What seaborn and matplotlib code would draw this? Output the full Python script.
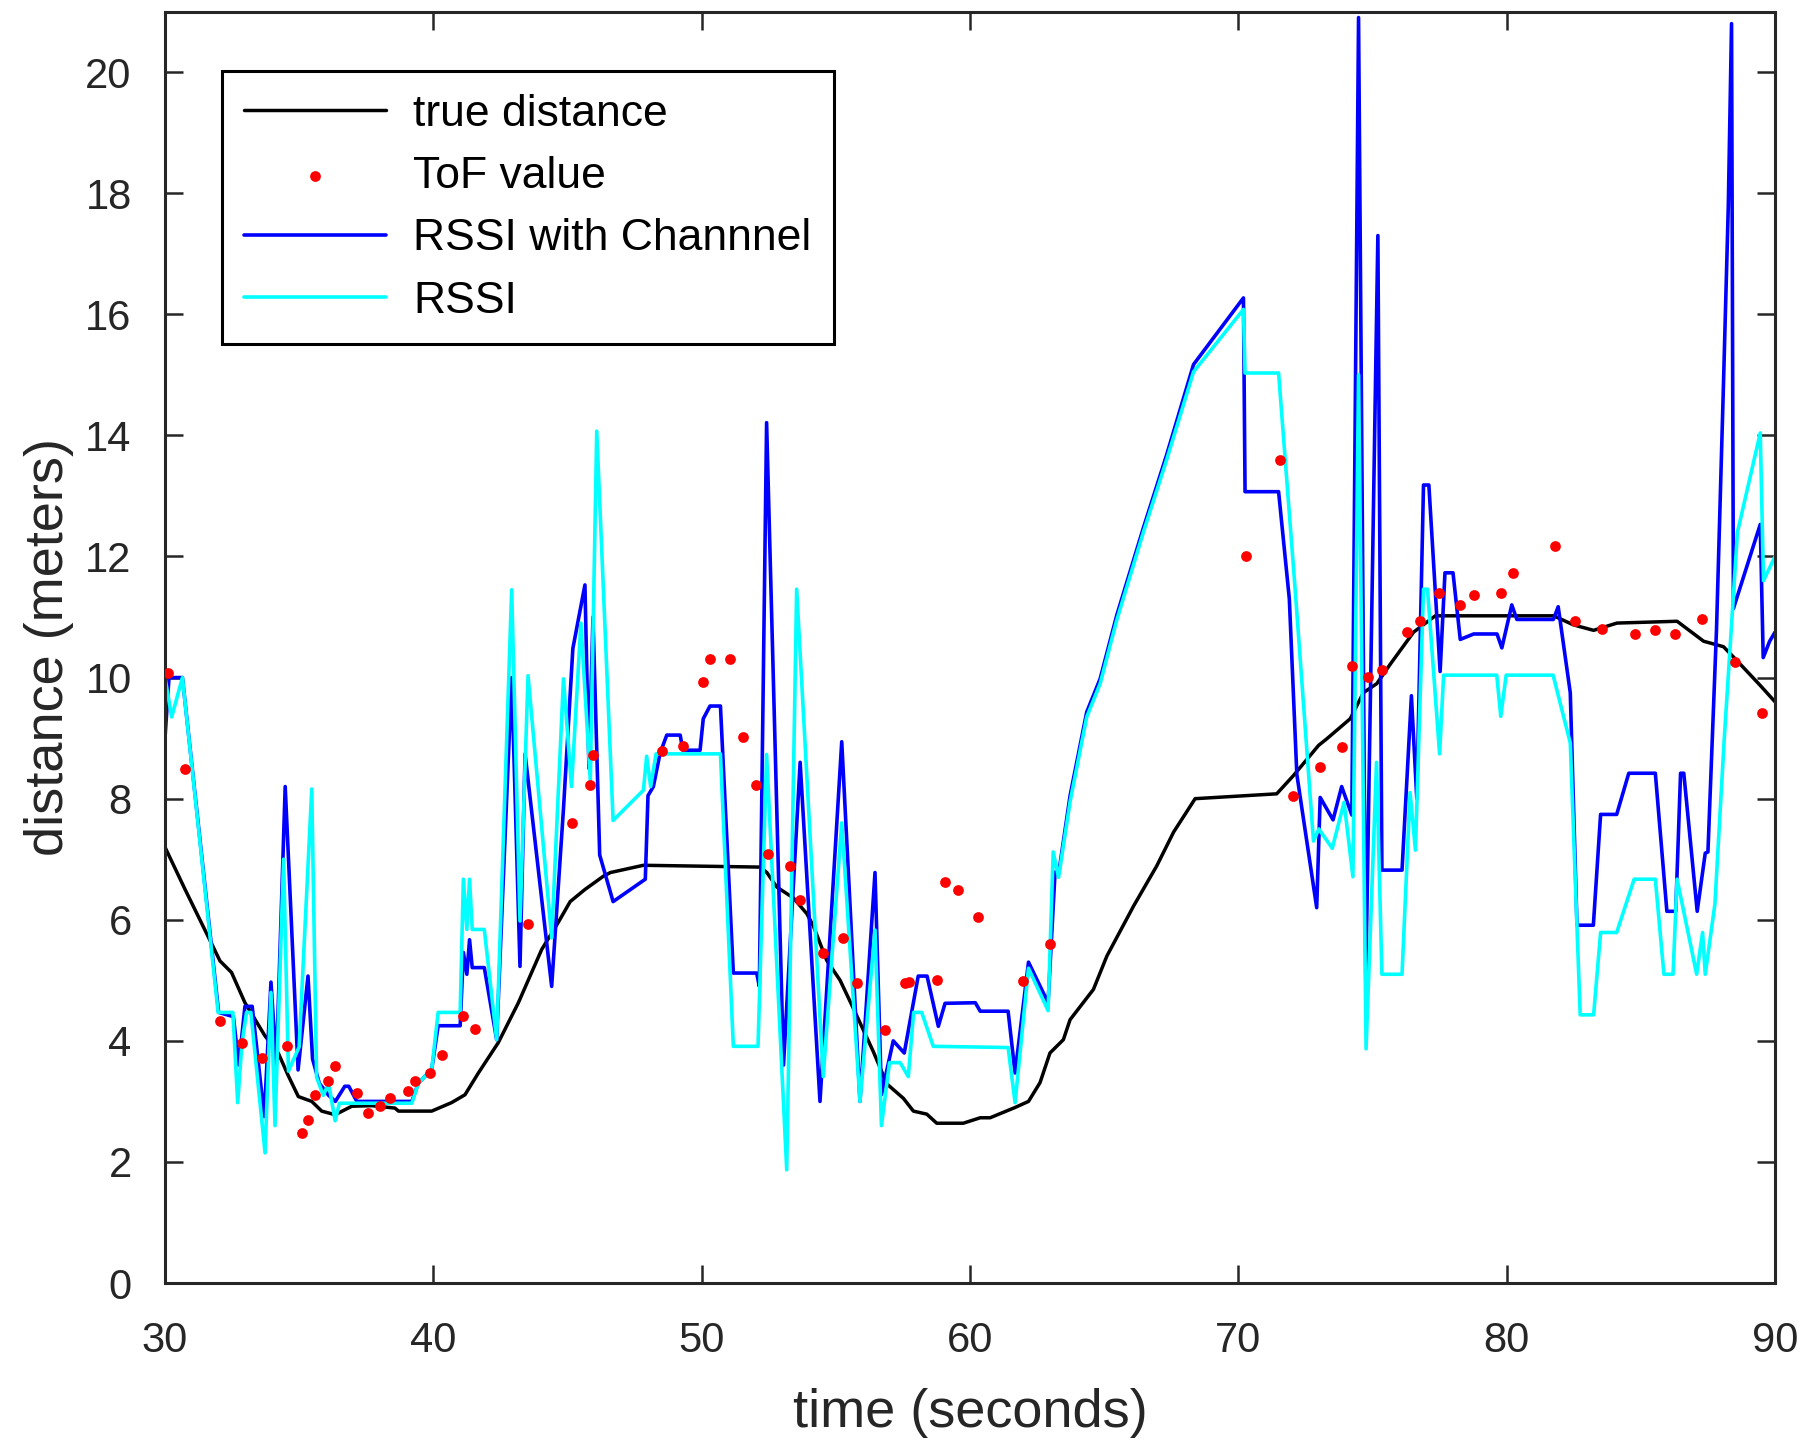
import matplotlib
matplotlib.use('Agg')
from matplotlib import pyplot as plt
import seaborn as sns
import pandas as pd

# true distance (black)
true_t = [30.0, 30.75, 31.6, 32.05, 32.48, 32.98, 33.73, 34.22, 34.6, 34.97, 35.47, 35.84, 36.34, 36.96,
          37.7, 38.57, 38.7, 39.94, 40.68, 41.18, 41.68, 42.42, 43.17, 44.04, 44.66, 45.1, 45.65, 46.34,
          46.6, 47.83, 52.18, 52.43, 52.8, 53.42, 53.92, 54.16, 54.66, 55.16, 55.65, 56.4, 56.9, 57.52,
          57.89, 58.39, 58.76, 59.75, 60.38, 60.75, 61.68, 62.18, 62.61, 62.98, 63.48, 63.73, 64.6, 65.1,
          66.1, 66.96, 67.59, 68.39, 71.43, 72.05, 72.99, 73.3, 74.17, 74.66, 75.16, 75.66, 76.53, 77.34,
          81.75, 82.49, 83.24, 84.11, 86.35, 87.34, 88.08, 88.58, 89.45, 90.0]
true_d = [7.2, 6.5, 5.73, 5.32, 5.13, 4.63, 4.08, 3.8, 3.42, 3.08, 3.0, 2.84, 2.78, 2.92,
          2.93, 2.89, 2.84, 2.84, 2.98, 3.11, 3.47, 3.97, 4.63, 5.51, 5.96, 6.3, 6.5, 6.72,
          6.78, 6.9, 6.87, 6.78, 6.54, 6.36, 6.1, 5.9, 5.33, 5.0, 4.54, 3.82, 3.29, 3.05,
          2.84, 2.79, 2.64, 2.64, 2.73, 2.73, 2.9, 3.0, 3.31, 3.8, 4.02, 4.35, 4.85, 5.4,
          6.23, 6.89, 7.45, 8.0, 8.08, 8.38, 8.88, 8.99, 9.32, 9.75, 9.9, 10.22, 10.75, 11.02,
          11.02, 10.87, 10.78, 10.9, 10.93, 10.6, 10.51, 10.28, 9.87, 9.6]

# ToF value (red dots)
tof_t = [30.12, 30.75, 32.05, 32.86, 33.6, 34.53, 35.09, 35.34, 35.6, 36.09, 36.34, 37.15, 37.58, 38.01,
         38.39, 39.07, 39.32, 39.88, 40.31, 41.12, 41.55, 43.54, 45.16, 45.84, 45.96, 48.51, 49.32, 50.05,
         50.31, 51.06, 51.55, 52.02, 52.49, 53.28, 53.67, 54.54, 55.28, 55.78, 56.84, 57.58, 57.72, 58.76,
         59.07, 59.55, 60.28, 61.99, 62.99, 70.3, 71.55, 72.05, 73.05, 73.85, 74.23, 74.85, 75.35, 76.28,
         76.77, 77.46, 78.27, 78.77, 79.77, 80.25, 81.8, 82.54, 83.55, 84.8, 85.54, 86.29, 87.28, 88.52,
         89.51]
tof_d = [10.07, 8.49, 4.33, 3.97, 3.72, 3.91, 2.48, 2.7, 3.1, 3.33, 3.58, 3.14, 2.81, 2.92,
         3.05, 3.17, 3.33, 3.47, 3.77, 4.41, 4.19, 5.93, 7.6, 8.22, 8.72, 8.79, 8.87, 9.92,
         10.3, 10.3, 9.02, 8.23, 7.08, 6.89, 6.32, 5.45, 5.7, 4.95, 4.18, 4.95, 4.97, 5.0,
         6.63, 6.49, 6.04, 4.99, 5.6, 12.0, 13.6, 8.05, 8.52, 8.86, 10.19, 10.01, 10.13, 10.76,
         10.93, 11.4, 11.2, 11.37, 11.4, 11.73, 12.17, 10.93, 10.81, 10.72, 10.78, 10.72, 10.96, 10.25,
         9.42]

# RSSI with Channel (blue)
chan_t = [30.0, 30.15, 30.65, 32.0, 32.55, 32.75, 32.98, 33.25, 33.7, 33.95, 34.15, 34.48, 34.96, 35.33,
          35.5, 35.75, 36.1, 36.35, 36.7, 36.85, 37.15, 39.2, 39.44, 39.94, 40.18, 41.0, 41.12, 41.25,
          41.35, 41.45, 41.9, 42.36, 42.92, 43.23, 43.42, 44.41, 44.85, 45.2, 45.65, 45.8, 45.95, 46.2,
          46.7, 47.9, 48.0, 48.2, 48.45, 48.7, 49.2, 49.3, 49.94, 50.06, 50.31, 50.7, 51.18, 52.05,
          52.15, 52.42, 53.05, 53.67, 54.41, 55.22, 55.9, 56.46, 56.7, 57.14, 57.55, 58.07, 58.4, 58.82,
          59.07, 60.2, 60.38, 61.42, 61.68, 62.18, 62.91, 63.17, 63.3, 63.73, 64.35, 64.85, 65.47, 66.46,
          67.33, 68.33, 70.19, 70.25, 71.5, 71.9, 72.18, 72.92, 73.05, 73.53, 73.85, 74.23, 74.48, 74.75,
          75.2, 75.35, 76.1, 76.45, 76.65, 76.9, 77.1, 77.52, 77.7, 78.0, 78.27, 78.77, 79.64, 79.82,
          80.19, 80.38, 81.74, 81.92, 82.37, 82.62, 83.23, 83.5, 84.1, 84.55, 85.54, 85.97, 86.3, 86.48,
          86.6, 87.1, 87.4, 87.5, 87.82, 88.07, 88.26, 88.38, 88.45, 89.45, 89.56, 89.8, 90.0]
chan_d = [9.0, 10.0, 10.0, 4.47, 4.4, 3.6, 4.57, 4.57, 2.75, 4.97, 3.6, 8.2, 3.52, 5.07,
          3.7, 3.3, 3.1, 3.0, 3.25, 3.25, 3.0, 3.0, 3.3, 3.53, 4.25, 4.25, 5.46, 5.1,
          5.67, 5.21, 5.21, 4.02, 10.0, 5.23, 8.74, 4.9, 7.83, 10.48, 11.53, 8.5, 11.0, 7.07,
          6.3, 6.67, 8.05, 8.2, 8.75, 9.05, 9.05, 8.8, 8.8, 9.32, 9.53, 9.53, 5.12, 5.12,
          4.9, 14.21, 3.6, 8.6, 3.0, 8.94, 3.0, 6.78, 3.11, 4.0, 3.8, 5.07, 5.07, 4.24,
          4.62, 4.63, 4.49, 4.49, 3.47, 5.3, 4.63, 6.79, 6.75, 8.05, 9.43, 9.98, 11.03, 12.47,
          13.68, 15.17, 16.27, 13.07, 13.07, 11.3, 8.4, 6.2, 8.02, 7.65, 8.2, 7.73, 20.9, 5.0,
          17.3, 6.82, 6.82, 9.7, 8.0, 13.18, 13.18, 10.1, 11.73, 11.73, 10.63, 10.72, 10.72, 10.49,
          11.2, 10.96, 10.96, 11.17, 9.75, 5.91, 5.91, 7.74, 7.74, 8.42, 8.42, 6.14, 6.14, 8.42,
          8.42, 6.14, 7.1, 7.12, 10.8, 14.7, 17.8, 20.8, 11.14, 12.53, 10.33, 10.6, 10.75]

# RSSI (cyan)
rssi_t = [30.0, 30.25, 30.65, 31.98, 32.53, 32.71, 32.87, 33.04, 33.2, 33.73, 33.95, 34.1, 34.42, 34.6,
          35.0, 35.47, 35.65, 35.9, 36.1, 36.34, 36.5, 39.2, 39.44, 39.94, 40.18, 41.0, 41.12, 41.25,
          41.35, 41.45, 41.9, 42.36, 42.92, 43.23, 43.53, 44.41, 44.85, 45.15, 45.5, 45.85, 46.09, 46.7,
          47.83, 47.95, 48.1, 48.3, 50.7, 51.18, 52.1, 52.42, 53.17, 53.54, 54.53, 55.22, 55.9, 56.46,
          56.7, 57.0, 57.4, 57.7, 57.9, 58.2, 58.63, 61.42, 61.68, 62.18, 62.91, 63.1, 63.3, 63.73,
          64.35, 64.85, 65.47, 66.46, 67.33, 68.33, 70.19, 70.25, 71.5, 72.12, 72.8, 73.0, 73.5, 73.94,
          74.27, 74.48, 74.76, 75.15, 75.35, 76.1, 76.4, 76.6, 76.9, 77.05, 77.5, 77.65, 79.63, 79.78,
          79.98, 81.73, 82.37, 82.74, 83.24, 83.5, 84.1, 84.75, 85.54, 85.86, 86.2, 86.35, 87.08, 87.3,
          87.4, 87.76, 88.1, 88.6, 89.45, 89.57, 90.0]
rssi_d = [10.0, 9.35, 10.0, 4.47, 4.47, 2.98, 3.97, 4.47, 4.47, 2.15, 4.8, 2.6, 7.0, 3.5,
          3.9, 8.16, 3.4, 3.1, 3.3, 2.68, 2.97, 2.97, 3.3, 3.53, 4.47, 4.47, 6.67, 5.84,
          6.67, 5.84, 5.84, 4.02, 11.45, 5.98, 10.03, 5.7, 9.98, 8.2, 10.9, 8.3, 14.07, 7.64,
          8.14, 8.7, 8.2, 8.74, 8.74, 3.91, 3.91, 8.73, 1.87, 11.46, 3.41, 7.6, 3.0, 5.83,
          2.6, 3.64, 3.64, 3.41, 4.47, 4.47, 3.91, 3.89, 2.98, 5.2, 4.5, 7.12, 6.7, 7.95,
          9.35, 9.9, 10.95, 12.4, 13.6, 15.05, 16.08, 15.03, 15.03, 11.44, 7.3, 7.5, 7.18, 7.94,
          6.71, 15.0, 3.87, 8.6, 5.1, 5.1, 8.1, 7.15, 11.46, 11.46, 8.74, 10.04, 10.04, 9.36,
          10.04, 10.04, 8.92, 4.43, 4.43, 5.79, 5.79, 6.67, 6.67, 5.1, 5.1, 6.67, 5.1, 5.79,
          5.1, 6.26, 8.93, 12.4, 14.04, 11.6, 12.0]

sns.set_style('ticks')
plt.rcParams['font.family'] = ['Liberation Sans', 'DejaVu Sans']
grey = '#262626'

fig = plt.figure(figsize=(18.07, 14.41), dpi=100)
ax = fig.add_axes([0.0913, 0.1096, 0.891, 0.8824])

sns.lineplot(x=true_t, y=true_d, color='black', linewidth=2.5, sort=False, estimator=None,
             label='true distance', ax=ax)
sns.scatterplot(x=tof_t, y=tof_d, color='#ff0000', s=60, linewidth=0, marker='o',
                label='ToF value', ax=ax, zorder=3)
sns.lineplot(x=chan_t, y=chan_d, color='#0000ff', linewidth=2.6, sort=False, estimator=None,
             label='RSSI with Channnel', ax=ax)
sns.lineplot(x=rssi_t, y=rssi_d, color='#00ffff', linewidth=2.6, sort=False, estimator=None,
             label='RSSI', ax=ax)

ax.set_xlim(30, 90)
ax.set_ylim(0, 21)
ax.set_xticks(range(30, 91, 10))
ax.set_yticks(range(0, 21, 2))
ax.tick_params(direction='in', length=13, width=1.8, top=True, right=True,
               labelsize=30, color=grey, labelcolor=grey, pad=24)
ax.tick_params(axis='x', pad=27)
for sp in ax.spines.values():
    sp.set_linewidth(2.2)
    sp.set_color(grey)

ax.set_xlabel('time (seconds)', fontsize=39, color=grey, labelpad=20)
ax.set_ylabel('distance (meters)', fontsize=39, color=grey, labelpad=8)

leg = ax.legend(loc='upper left', bbox_to_anchor=(0.0354, 0.953), frameon=True, fancybox=False,
                edgecolor='black', framealpha=1, fontsize=32, handlelength=3.2,
                borderaxespad=0, labelspacing=0.48, borderpad=0.5, handletextpad=0.6)
leg.get_frame().set_linewidth(2.2)
for t in leg.get_texts():
    t.set_color('black')

fig.savefig('out.png', dpi=100)
